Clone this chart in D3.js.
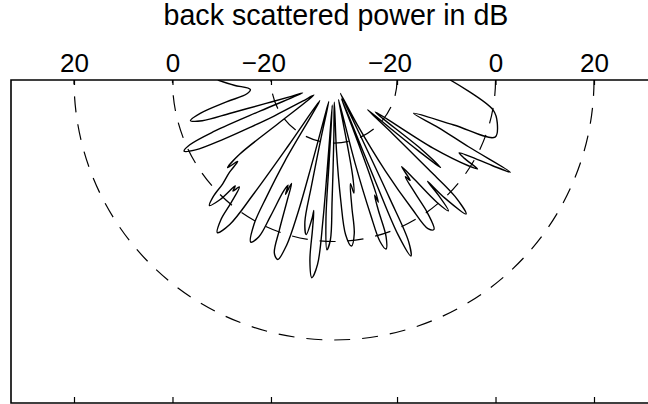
<!DOCTYPE html>
<html>
<head>
<meta charset="utf-8">
<script src="https://cdn.jsdelivr.net/npm/d3@7"></script>
<style>
  body { margin: 0; background: #fff; }
  text { font-family: "Liberation Sans", Arial, Helvetica, sans-serif; }
</style>
</head>
<body>
<svg id="chart" width="648" height="404"></svg>
<script>
const width = 648;
const height = 404;

// angle from the downward vertical, degrees (left side negative)
const angleDeg = [
  -90, -87, -83.5, -81, -78.5, -76, -74.2, -72.8, -72.2, -71, -69, -67.5,
  -67.2, -66.8, -65.8, -64.6, -63.2, -61.8, -60.5, -59, -56, -53, -52, -51.8,
  -50.5, -49.8, -48.5, -47, -46, -44.8, -43.6, -43, -42.3, -41.5, -40, -39,
  -37.4, -35.8, -35.2, -34.8, -34.5, -32.5, -31.2, -30, -29, -27.2, -25.6, -25,
  -24.4, -23.6, -23, -22.3, -21.2, -20, -19, -17.4, -16, -15.2, -14.8, -14.4,
  -13.5, -12.6, -12, -11.6, -10.2, -9, -8.8, -8.2, -7.6, -6.4, -5.1, -4.5,
  -4.3, -3.9, -3.4, -3.3, -2.4, -1.3, -0.9, -0.2, 0.8, 2, 3.2, 4.3,
  6, 7.5, 8, 9, 10, 11, 12, 13, 14.2, 15.2, 15.9, 17.1,
  18.4, 18.8, 19.4, 20, 20.6, 21.2, 21.8, 22.2, 22.5, 23.6, 24.8, 25.2,
  25.4, 25.5, 27.5, 29.5, 31.2, 32.3, 33.8, 35.1, 35.6, 36.4, 37.2, 38,
  39, 40.1, 41.2, 42.2, 42.7, 43.2, 44.6, 46.1, 46.6, 47.5, 48.5, 49.4,
  50, 50.6, 51.6, 52.2, 55.5, 57.5, 58.2, 59, 59.8, 60.6, 61.6, 62.4,
  63.6, 65.5, 67.3, 69.4, 70.5, 75.2, 79.3, 90
];

// back scattered power, dB
const powerDb = [
  -9.2, -12.5, -15.7, -14.9, -10.5, -4.8, -2.5, -4.8, -10.9, -18.2, -23.7, -25.9,
  -16.6, -6.4, -0.7, 0.9, -1.3, -7.4, -13.5, -18.6, -25.1, -27.7, -18.6, -8.4,
  -4.8, -7.2, -4.4, -1.9, 1.3, 3.1, 0.7, -3.4, -2.3, -3.8, -0.3, 3.7,
  6.2, 3.3, -4.4, -16.6, -27.7, -24.7, -13.5, -5.4, 0.7, 4.2, 2.5, -2.3,
  -8.0, -9.5, -7.6, -10.1, -6.4, -0.3, 4.4, 5.4, 2.1, -4.8, -14.5, -24.7,
  -28.3, -20.6, -10.5, -3.4, -0.9, -4.4, -6.0, -2.3, 4.2, 7.6, 4.8, -4.4,
  -18.6, -27.7, -16.6, -4.4, 1.7, -0.3, -8.4, -20.6, -28.3, -18.6, -8.4, -1.3,
  1.1, -1.3, -6.8, -11.5, -9.5, -12.9, -23.7, -28.7, -15.5, -4.4, 1.3, 3.1,
  0.7, -4.8, -8.0, -6.4, -11.5, -22.6, -28.7, -10.5, 1.3, 6.2, 3.3, -6.4,
  -20.6, -29.8, -22.6, -11.5, -2.3, 2.9, 3.7, 0.3, -4.4, -8.4, -7.2, -10.5,
  -6.8, -0.3, 2.5, -1.3, -4.8, 0.1, 5.4, 1.3, -6.4, -16.6, -23.7, -17.6,
  -10.5, -4.8, -10.1, -22.2, -8.4, -0.3, 1.5, -1.9, -3.4, -1.3, 3.7, 7.6,
  -2.3, -9.5, -15.3, -6.8, 1.9, 1.5, 0.1, -9.2
];

const ringValues = [20, 0, -20];
const tickValues = [-20, 0, 20];
const dbMin = -32.8;

const cx = 334;
const cy = 80;
const box = { left: 11, top: 80, bottom: 403 };

const r = d3.scaleLinear().domain([dbMin, 20]).range([0, 260]).clamp(true);
const xLeft = d3.scaleLinear().domain([dbMin, 20]).range([cx, cx - 260]);
const xRight = d3.scaleLinear().domain([dbMin, 20]).range([cx, cx + 260]);

const svg = d3.select("#chart");

svg.append("defs").append("clipPath")
    .attr("id", "plot-clip")
  .append("rect")
    .attr("x", box.left)
    .attr("y", box.top)
    .attr("width", width - box.left)
    .attr("height", box.bottom - box.top);

const plot = svg.append("g").attr("clip-path", "url(#plot-clip)");

// dashed range rings
plot.append("g")
    .attr("transform", `translate(${cx},${cy})`)
  .selectAll("circle")
  .data(ringValues)
  .join("circle")
    .attr("r", d => r(d))
    .attr("fill", "none")
    .attr("stroke", "#000")
    .attr("stroke-width", 1.2)
    .attr("stroke-dasharray", "16,12");

const points = angleDeg.map((a, i) => ({ a: a, p: powerDb[i] }));

const line = d3.lineRadial()
    .angle(d => Math.PI - d.a * Math.PI / 180)
    .radius(d => r(d.p))
    .curve(d3.curveCatmullRom.alpha(0.5));

plot.append("path")
    .attr("transform", `translate(${cx},${cy})`)
    .attr("d", line(points))
    .attr("fill", "none")
    .attr("stroke", "#000")
    .attr("stroke-width", 1.4)
    .attr("stroke-linejoin", "round");

// frame: top, left, bottom (the right side runs off the picture)
svg.append("path")
    .attr("d", `M${width},${box.top}H${box.left}V${box.bottom}H${width}`)
    .attr("fill", "none")
    .attr("stroke", "#000")
    .attr("stroke-width", 1.6);

function topAxis(scale) {
  const g = svg.append("g")
      .attr("transform", `translate(0,${box.top})`)
      .call(d3.axisTop(scale).tickValues(tickValues).tickSizeInner(-5).tickSizeOuter(0).tickPadding(8));
  g.select(".domain").remove();
  g.selectAll("line").attr("stroke-width", 1.2);
  g.selectAll("text")
      .attr("font-size", 26)
      .attr("fill", "#000")
      .attr("font-family", null)
      .filter(d => d < 0)
      .attr("text-anchor", "end")
      .attr("dx", "0.556em");
}

function bottomAxis(scale) {
  const g = svg.append("g")
      .attr("transform", `translate(0,${box.bottom})`)
      .call(d3.axisBottom(scale).tickValues(tickValues).tickSizeInner(-6).tickSizeOuter(0).tickFormat(""));
  g.select(".domain").remove();
  g.selectAll("line").attr("stroke-width", 1.2);
}

topAxis(xLeft);
topAxis(xRight);
bottomAxis(xLeft);
bottomAxis(xRight);

svg.append("text")
    .attr("x", cx + 2)
    .attr("y", 25)
    .attr("text-anchor", "middle")
    .attr("font-size", 28.6)
    .text("back scattered power in dB");
</script>
</body>
</html>
